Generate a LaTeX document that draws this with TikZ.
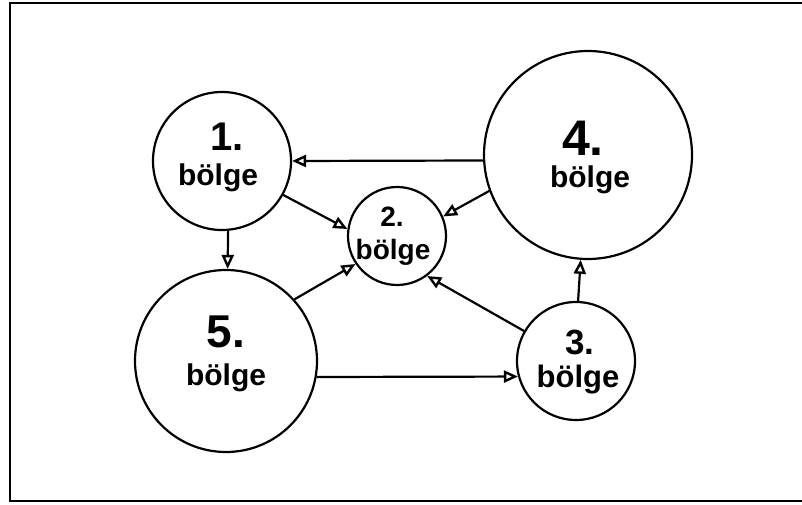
\documentclass[tikz,border=0pt]{standalone}
\usepackage{fontspec}
\setmainfont{Liberation Sans}
\usetikzlibrary{arrows.meta}

\begin{document}
\begin{tikzpicture}[x=0.5pt,y=0.5pt]
\useasboundingbox (0,0) rectangle (802,504);
\begin{scope}[>={Triangle[open,length=7pt,width=6pt,line width=1.2pt]}, line width=1.1pt,
  bolge/.style={circle,draw,inner sep=0pt,minimum size=#1},
  yazi/.style={font=\bfseries\fontsize{#1}{#1}\selectfont,inner sep=0pt}]

\draw (802,501) -- (10,501) -- (10,3) -- (802,3);

\node[bolge=69pt]  (b1) at (222,343) {};
\node[bolge=49pt]  (b2) at (397,268) {};
\node[bolge=59pt]  (b3) at (576,143) {};
\node[bolge=104pt] (b4) at (588,349) {};
\node[bolge=91pt]  (b5) at (226,143) {};

\node[yazi=20pt]   (n1) at (227,367) {1.};
\node[yazi=15pt]   (w1) at (218,326) {bölge};
\node[yazi=14pt]   (n2) at (392,287) {2.};
\node[yazi=14pt]   (w2) at (393,252) {bölge};
\node[yazi=17.5pt] (n3) at (580,162) {3.};
\node[yazi=15.5pt] (w3) at (578,124) {bölge};
\node[yazi=25pt]   (n4) at (583,366) {4.};
\node[yazi=15pt]   (w4) at (590,324) {bölge};
\node[yazi=23pt]   (n5) at (226,172) {5.};
\node[yazi=15pt]   (w5) at (226,126) {bölge};

\draw[->] (b4.183) -- (b1.0);
\draw[->] (b1.-29) -- (b2.172);
\draw[->] (b4.200) -- (b2.23);
\draw[->] (b1.-85) -- (b5.89);
\draw[->] (b5.42) -- (b2.214);
\draw[->] (b3.150) -- (b2.-53);
\draw[->] (b3.88) -- (b4.266);
\draw[->] (b5.-10) -- (b3.195);

\end{scope}
\end{tikzpicture}
\end{document}
